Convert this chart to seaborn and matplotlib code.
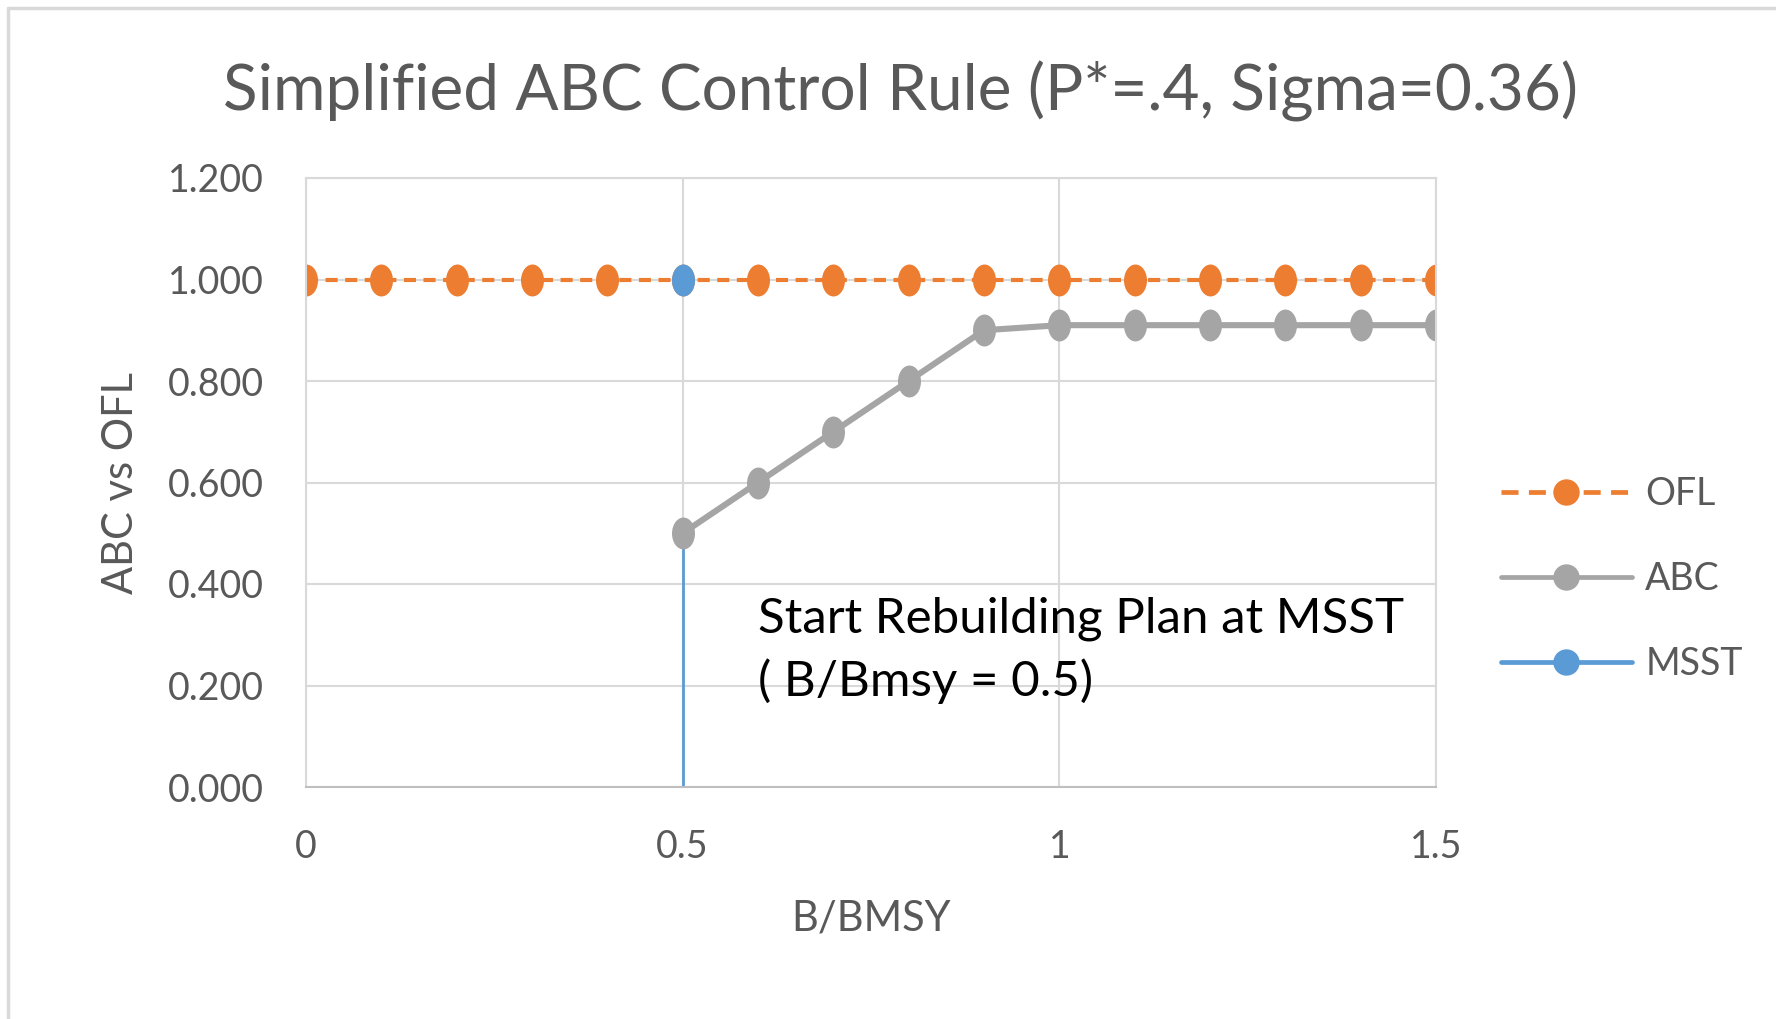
import numpy as np
import matplotlib
matplotlib.use("Agg")
import matplotlib.pyplot as plt
from matplotlib.path import Path
from matplotlib.transforms import Affine2D
from matplotlib.lines import Line2D
import seaborn as sns

# data
x_vals = [0, 0.1, 0.2, 0.3, 0.4, 0.5, 0.6, 0.7, 0.8, 0.9, 1.0, 1.1, 1.2, 1.3, 1.4, 1.5]
ofl = [1.0] * 16
abc_x = [0.5, 0.6, 0.7, 0.8, 0.9, 1.0, 1.1, 1.2, 1.3, 1.4, 1.5]
abc = [0.5, 0.6, 0.7, 0.8, 0.9, 0.91, 0.91, 0.91, 0.91, 0.91, 0.91]
msst_x = [0.5, 0.5]
msst_y = [0.0, 0.5]
msst_pt = 1.0

y_ticks = [0, 0.2, 0.4, 0.6, 0.8, 1.0, 1.2]
x_ticks = [0, 0.5, 1, 1.5]

ORANGE = "#ed7d31"
GREY = "#a5a5a5"
BLUE = "#5b9bd5"
TXT = "#595959"
GRID = "#d9d9d9"

sns.set_style("white")
plt.rcParams["font.family"] = ["Lato", "DejaVu Sans"]

# markers look slightly taller than wide in the picture
oval = Path.unit_circle().transformed(Affine2D().scale(0.72, 1.0))

fig = plt.figure(figsize=(17.76, 10.19), dpi=100)
ax = fig.add_axes([306 / 1776, 1 - 787 / 1019, (1436 - 306) / 1776, (787 - 178) / 1019])

ms = 23
sns.lineplot(x=x_vals, y=ofl, ax=ax, color=ORANGE, linewidth=3.0, linestyle=(0, (2.9, 1.8)),
             marker=oval, markersize=ms, markeredgewidth=0, estimator=None, sort=False, label="OFL")
sns.lineplot(x=abc_x, y=abc, ax=ax, color=GREY, linewidth=4.4,
             marker=oval, markersize=ms, markeredgewidth=0, estimator=None, sort=False, label="ABC")
sns.lineplot(x=msst_x, y=msst_y, ax=ax, color=BLUE, linewidth=2.0, estimator=None, sort=False, zorder=1)
ax.plot([msst_x[0]], [msst_pt], linestyle="none", marker=oval, markersize=ms,
        color=BLUE, markeredgewidth=0, zorder=5)

ax.set_xlim(0, 1.5)
ax.set_ylim(0, 1.2)
ax.set_xticks(x_ticks)
ax.set_xticklabels(["0", "0.5", "1", "1.5"])
ax.set_yticks(y_ticks)
ax.set_yticklabels([f"{v:.3f}" for v in y_ticks])
ax.grid(True, color=GRID, linewidth=1.5)
ax.set_axisbelow(True)
for s in ax.spines.values():
    s.set_color(GRID)
    s.set_linewidth(1.5)
ax.spines["bottom"].set_color("#bfbfbf")
ax.tick_params(axis="both", length=0, labelsize=27, labelcolor=TXT)
ax.tick_params(axis="x", pad=30)
ax.tick_params(axis="y", pad=30)

ax.set_xlabel("B/BMSY", fontsize=30, color=TXT, labelpad=25)
ax.set_ylabel("ABC vs OFL", fontsize=30, color=TXT, labelpad=20)
fig.text(900 / 1776, 1 - 91 / 1019, "Simplified ABC Control Rule (P*=.4, Sigma=0.36)",
         fontsize=46, color=TXT, ha="center", va="center")

ax.text(0.60, 0.375, "Start Rebuilding Plan at MSST\n( B/Bmsy = 0.5)", fontsize=35.5,
        color="black", ha="left", va="top", linespacing=1.45)

handles = [
    Line2D([], [], color=ORANGE, linewidth=3.4, linestyle=(0, (3.6, 2.2)), marker="o",
           markersize=19, markeredgewidth=0),
    Line2D([], [], color=GREY, linewidth=3.4, marker="o", markersize=19, markeredgewidth=0),
    Line2D([], [], color=BLUE, linewidth=3.4, marker="o", markersize=19, markeredgewidth=0),
]
leg = ax.legend(handles, ["OFL", "ABC", "MSST"], loc="center left",
                bbox_to_anchor=(1467 / 1776, 1 - 579 / 1019), bbox_transform=fig.transFigure,
                frameon=False, fontsize=27, handlelength=3.5, labelspacing=1.3, handletextpad=0.35)
for t in leg.get_texts():
    t.set_color(TXT)

# outer chart border (top and left visible)
fig.add_artist(Line2D([8 / 1776, 8 / 1776], [0, 1 - 8 / 1019], color=GRID, linewidth=2.5,
                      transform=fig.transFigure))
fig.add_artist(Line2D([8 / 1776, 1], [1 - 8 / 1019, 1 - 8 / 1019], color=GRID, linewidth=2.5,
                      transform=fig.transFigure))

fig.savefig("out.png", dpi=100)
